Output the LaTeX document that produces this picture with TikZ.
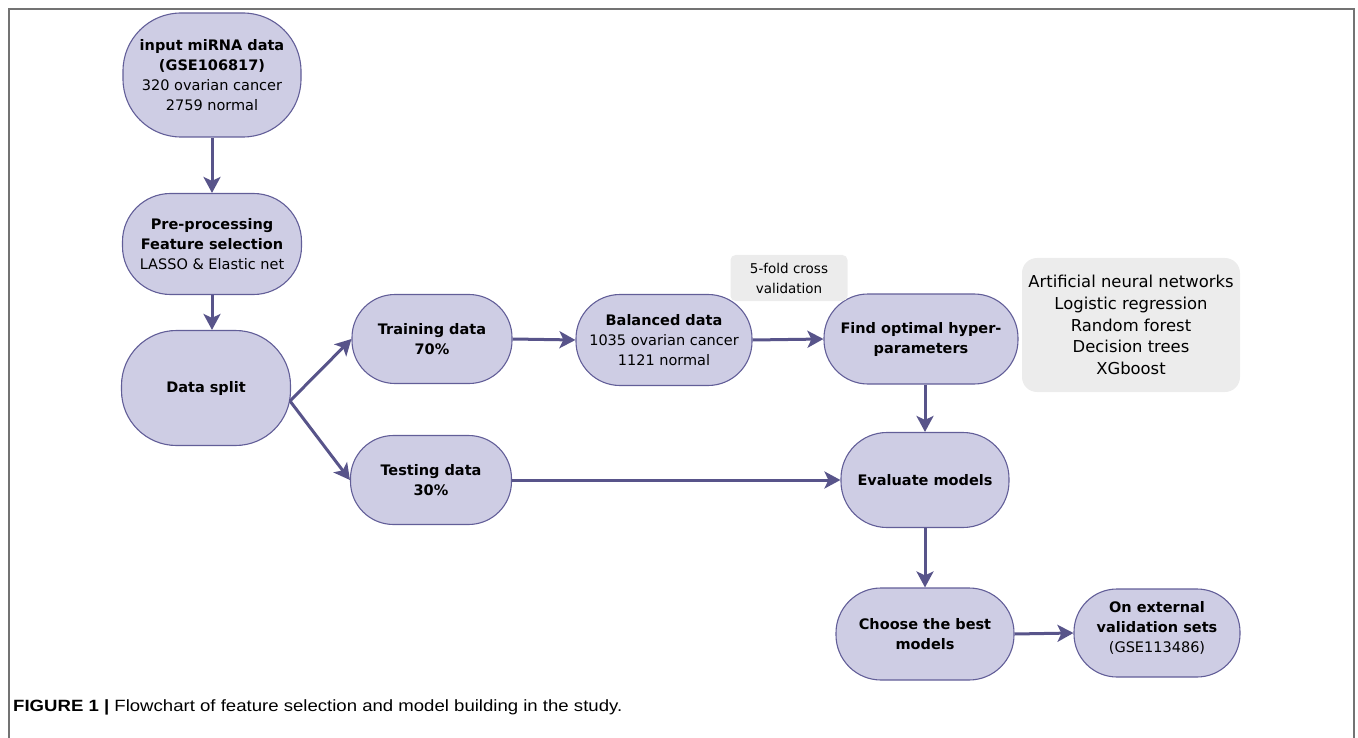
\documentclass[tikz,border=0pt]{standalone}
\usepackage{fontspec}
\setmainfont{DejaVu Sans}
\newfontfamily\capfont[FakeStretch=1.14]{Liberation Sans}
\usetikzlibrary{arrows.meta}
\definecolor{nodefill}{RGB}{206,205,228}
\definecolor{nodeline}{RGB}{98,94,152}
\definecolor{arrowc}{RGB}{88,84,138}
\definecolor{boxgray}{RGB}{236,236,236}
\definecolor{framegray}{RGB}{115,115,115}
\tikzset{
  flow/.style={draw=nodeline, fill=nodefill, line width=1.1pt, align=center,
    inner sep=0pt, font=\fontsize{14.5}{20}\selectfont},
  graybox/.style={fill=boxgray, draw=none, align=center, inner sep=0pt},
  conn/.style={draw=arrowc, line width=3pt,
    -{Stealth[length=16pt, width=17pt, inset=4pt]}},
}
\begin{document}
\begin{tikzpicture}[x=1pt,y=-1pt]
\useasboundingbox (0,0) rectangle (1358,738);
\draw[framegray, line width=1.3pt] (9,738) -- (9,9) -- (1354,9) -- (1354,738);

\node[flow, minimum width=178pt, minimum height=124pt, rounded corners=58pt] (inp) at (212,75)
  {\textbf{input miRNA data}\\\textbf{(GSE106817)}\\320 ovarian cancer\\2759 normal};
\node[flow, minimum width=179pt, minimum height=101pt, rounded corners=48pt] (pre) at (212,244)
  {\textbf{Pre-processing}\\\textbf{Feature selection}\\LASSO \& Elastic net};
\node[flow, minimum width=169pt, minimum height=115pt, rounded corners=55pt] (ds) at (206,388)
  {\textbf{Data split}};
\node[flow, minimum width=160pt, minimum height=89pt, rounded corners=43pt] (train) at (432,339)
  {\textbf{Training data}\\\textbf{70\%}};
\node[flow, minimum width=161pt, minimum height=89pt, rounded corners=43pt] (test) at (431,480)
  {\textbf{Testing data}\\\textbf{30\%}};
\node[flow, minimum width=176pt, minimum height=91pt, rounded corners=44pt] (bal) at (664,340)
  {\textbf{Balanced data}\\1035 ovarian cancer\\1121 normal};
\node[flow, minimum width=194pt, minimum height=90pt, rounded corners=44pt] (find) at (921,339)
  {\textbf{Find optimal hyper-}\\\textbf{parameters}};
\node[flow, minimum width=168pt, minimum height=95pt, rounded corners=46pt] (eval) at (925,480)
  {\textbf{Evaluate models}};
\node[flow, minimum width=178pt, minimum height=92pt, rounded corners=45pt] (choose) at (925,634)
  {\textbf{Choose the best}\\\textbf{models}};
\node[flow, minimum width=166pt, minimum height=88pt, rounded corners=43pt] (ext) at (1157,633)
  {\textbf{On external}\\\textbf{validation sets}\\(GSE113486)\\[-8pt]\mbox{}};

\node[graybox, minimum width=117pt, minimum height=46pt, rounded corners=5pt,
  font=\fontsize{13.5}{20}\selectfont] (fold) at (789,278) {5-fold cross\\validation};
\node[graybox, minimum width=218pt, minimum height=134pt, rounded corners=15pt,
  font=\fontsize{16.4}{21.8}\selectfont] (models) at (1131,325)
  {Artificial neural networks\\Logistic regression\\Random forest\\Decision trees\\XGboost};

\coordinate (split) at (290,401);
\draw[conn] (inp.south) -- (pre.north);
\draw[conn] (pre.south) -- (pre.south |- ds.north);
\draw[conn] (split) -- (train.west);
\draw[conn] (split) -- (test.west);
\draw[conn] (train.east) -- (bal.west);
\draw[conn] (bal.east) -- (find.west);
\draw[conn] (test.east) -- (eval.west);
\draw[conn] (eval.north |- find.south) -- (eval.north);
\draw[conn] (eval.south) -- (choose.north);
\draw[conn] (choose.east) -- (ext.west);

\node[anchor=base west, inner sep=0pt, font=\capfont\fontsize{16.3}{20}\selectfont] (cap) at (13,711)
  {\textbf{FIGURE 1 |} Flowchart of feature selection and model building in the study.};
\end{tikzpicture}
\end{document}
